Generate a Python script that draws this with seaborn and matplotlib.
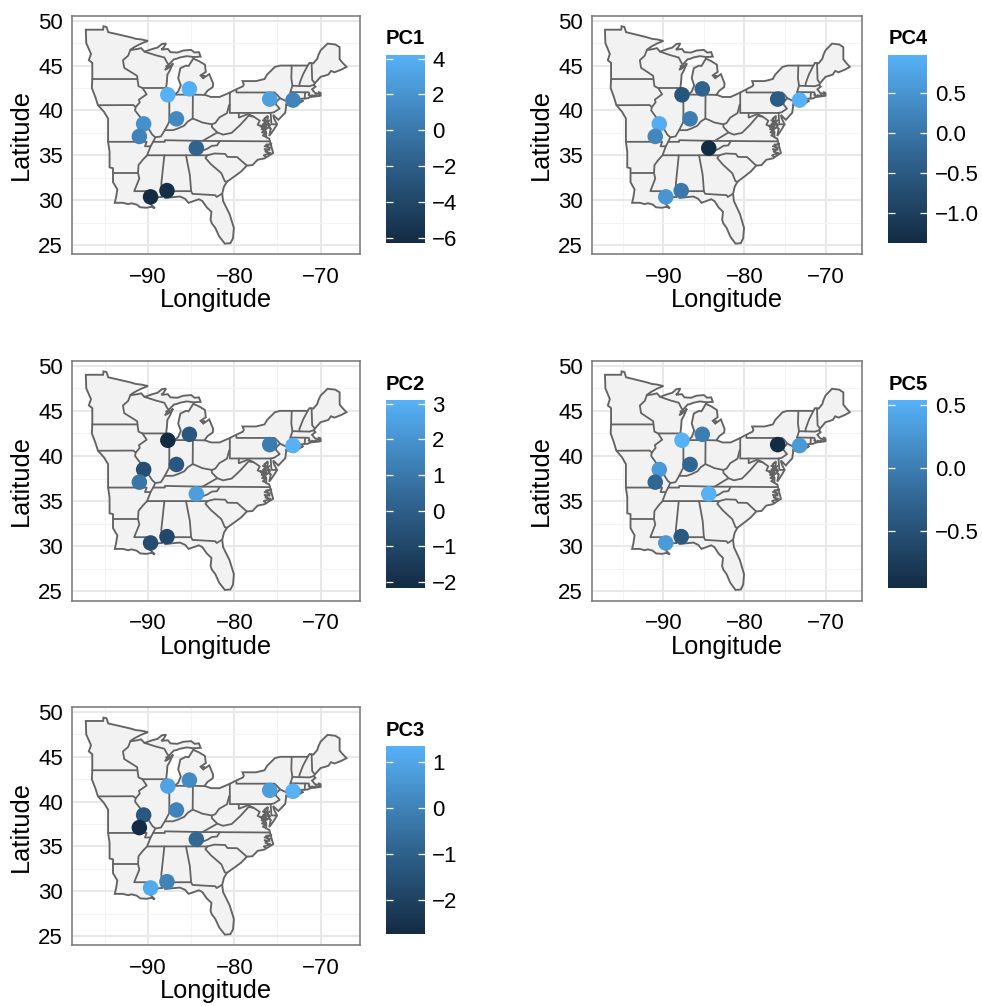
# PCA scores of the sites on a map of the eastern US, one panel per component
import matplotlib
matplotlib.use('Agg')
import matplotlib.pyplot as plt
import pandas as pd
import seaborn as sns
from matplotlib.cm import ScalarMappable
from matplotlib.colors import LinearSegmentedColormap, Normalize

# sites
site_lon = [-87.7, -85.2, -75.9, -73.2, -86.7, -90.5, -91.0, -84.4, -87.8, -89.7]
site_lat = [41.74, 42.4, 41.26, 41.15, 39.06, 38.5, 37.1, 35.8, 31.06, 30.36]

pc1 = [4.2, 4.0, 2.9, 0.9, 1.2, 1.8, 0.8, -1.6, -6.0, -6.28]
pc2 = [-2.17, -0.3, 1.1, 3.11, -0.3, -0.7, 0.9, 2.4, -0.9, -0.7]
pc3 = [0.9, 0.2, 0.75, 1.34, 0.0, -1.3, -2.75, -0.8, 0.0, 1.1]
pc4 = [-0.6, -0.35, -0.45, 0.97, 0.1, 0.9, 0.25, -1.37, 0.05, 0.5]
pc5 = [0.54, 0.0, -0.95, 0.3, -0.25, 0.3, -0.25, 0.54, -0.4, 0.3]

# colourbar range and ticks
pc1_range, pc1_ticks = (-6.28, 4.2), [-6, -4, -2, 0, 2, 4]
pc2_range, pc2_ticks = (-2.17, 3.11), [-2, -1, 0, 1, 2, 3]
pc3_range, pc3_ticks = (-2.75, 1.34), [-2, -1, 0, 1]
pc4_range, pc4_ticks = (-1.37, 0.97), [-1.0, -0.5, 0.0, 0.5]
pc5_range, pc5_ticks = (-0.95, 0.54), [-0.5, 0.0, 0.5]

# outer coast and land border, lon/lat
land = [
    (-97.2, 49.0), (-95.2, 49.0), (-95.15, 49.38), (-94.8, 49.3), (-94.6, 48.72), (-93.8, 48.55), (-92.9, 48.35),
    (-92.0, 48.15), (-91.4, 47.98), (-90.8, 47.92), (-90.0, 47.75), (-90.8, 47.45), (-91.6, 47.05),
    (-92.1, 46.72), (-91.2, 46.85), (-90.8, 46.95), (-90.4, 46.55), (-89.5, 46.85), (-88.9, 47.0), (-88.4, 47.4),
    (-87.9, 47.47), (-88.2, 47.0), (-88.45, 46.78), (-87.7, 46.85), (-87.4, 46.5), (-86.6, 46.45), (-85.9, 46.68),
    (-85.0, 46.75), (-84.6, 46.45), (-84.1, 46.5), (-83.9, 46.0), (-84.7, 45.95), (-85.5, 46.05), (-86.3, 45.9),
    (-86.7, 45.75), (-87.0, 45.7), (-87.6, 45.1), (-88.0, 44.55), (-87.4, 44.9), (-87.1, 45.25), (-87.5, 44.4),
    (-87.75, 44.0), (-87.8, 43.3), (-87.9, 42.5), (-87.5, 41.7), (-87.0, 41.7), (-86.5, 42.1), (-86.2, 42.8),
    (-86.5, 43.6), (-86.25, 44.7), (-85.6, 45.0), (-85.3, 44.95), (-85.0, 45.4), (-84.75, 45.78), (-84.1, 45.5),
    (-83.4, 45.1), (-83.3, 44.3), (-83.9, 43.9), (-83.6, 43.6), (-82.9, 44.05), (-82.45, 43.0), (-82.5, 42.6),
    (-83.1, 42.2), (-83.45, 41.75), (-82.7, 41.5), (-81.7, 41.5), (-80.5, 42.0), (-80.1, 42.2), (-79.0, 42.7),
    (-78.9, 42.9), (-79.05, 43.27), (-77.5, 43.27), (-76.5, 43.5), (-76.2, 44.0), (-75.3, 44.85), (-74.7, 45.0),
    (-71.5, 45.0), (-71.3, 45.3), (-70.85, 45.25), (-70.4, 45.75), (-70.25, 46.2), (-70.0, 46.7), (-69.2, 47.45),
    (-68.3, 47.35), (-67.8, 47.05), (-67.8, 45.7), (-67.45, 45.3), (-67.0, 44.85), (-67.6, 44.55), (-68.0, 44.4),
    (-68.4, 44.25), (-68.8, 44.4), (-69.1, 44.0), (-69.6, 43.85), (-70.0, 43.75), (-70.6, 43.1), (-70.8, 42.85),
    (-70.6, 42.65), (-71.0, 42.35), (-70.65, 41.95), (-70.0, 41.8), (-70.0, 41.65), (-70.65, 41.55), (-71.2, 41.5),
    (-71.5, 41.35), (-72.9, 41.25), (-73.65, 41.0), (-74.0, 40.7), (-74.0, 40.45), (-74.1, 39.75), (-74.9, 38.95),
    (-75.5, 39.5), (-75.4, 39.1), (-75.05, 38.45), (-75.4, 37.9), (-75.95, 37.15), (-75.8, 37.9), (-76.2, 38.6),
    (-76.1, 39.4), (-76.5, 39.1), (-76.4, 38.3), (-77.0, 38.3), (-76.3, 37.6), (-76.3, 37.0), (-75.95, 36.85),
    (-75.5, 35.25), (-76.5, 34.65), (-77.3, 34.5), (-77.9, 33.9), (-78.55, 33.85), (-79.2, 33.2), (-79.9, 32.7),
    (-80.85, 32.05), (-81.2, 31.5), (-81.4, 30.7), (-81.3, 29.9), (-80.55, 28.45), (-80.05, 26.9), (-80.15, 25.75),
    (-80.45, 25.2), (-81.1, 25.15), (-81.75, 25.95), (-82.2, 26.9), (-82.6, 27.4), (-82.75, 27.8), (-82.65, 28.7),
    (-83.2, 29.2), (-83.7, 29.9), (-84.1, 30.1), (-85.3, 29.7), (-85.7, 30.15), (-86.3, 30.4), (-87.5, 30.3),
    (-88.0, 30.25), (-88.0, 30.7), (-88.4, 30.35), (-89.3, 30.3), (-89.6, 30.2), (-89.4, 29.8), (-89.75, 29.6),
    (-89.2, 29.1), (-89.6, 29.25), (-90.2, 29.15), (-90.9, 29.2), (-91.3, 29.5), (-91.9, 29.65), (-92.3, 29.55),
    (-92.9, 29.7), (-93.85, 29.7), (-93.7, 30.3), (-93.55, 31.2), (-94.05, 32.0), (-94.05, 33.0), (-94.05, 33.55),
    (-94.45, 33.65), (-94.45, 35.4), (-94.62, 36.5), (-94.62, 39.1), (-95.1, 39.85), (-95.8, 40.6), (-96.1, 41.5),
    (-96.5, 42.5), (-96.45, 43.5), (-96.45, 45.3), (-96.85, 45.6), (-96.6, 46.3), (-97.15, 47.5), (-97.2, 49.0),
]
long_island = [(-74.0, 40.6), (-73.7, 40.88), (-72.6, 40.98), (-72.0, 41.1), (-72.5, 40.8), (-73.6, 40.58), (-74.0, 40.6)]

# inner state lines
state_lines = [
    [(-92.05, 46.7), (-92.3, 46.1), (-92.9, 45.6), (-92.75, 44.75), (-91.25, 43.85), (-91.22, 43.5)],
    [(-96.45, 43.5), (-91.22, 43.5), (-91.1, 42.7), (-90.64, 42.5), (-87.8, 42.5)],
    [(-90.4, 46.55), (-89.1, 46.15), (-88.1, 45.9), (-87.8, 45.35), (-87.6, 45.1)],
    [(-95.77, 40.58), (-91.7, 40.6), (-91.42, 40.38)],
    [(-90.64, 42.5), (-90.15, 41.8), (-91.05, 41.2), (-90.95, 40.9), (-91.42, 40.38), (-91.5, 40.0), (-90.7, 39.0),
     (-90.15, 38.8), (-90.35, 38.2), (-89.9, 37.9), (-89.5, 37.3), (-89.15, 37.0), (-89.4, 36.5), (-89.7, 36.0)],
    [(-94.62, 36.5), (-90.15, 36.5), (-90.35, 36.0), (-89.7, 36.0), (-90.1, 35.0), (-90.6, 34.5), (-91.1, 33.9),
     (-91.15, 33.0), (-91.0, 32.4), (-91.6, 31.0), (-89.73, 31.0), (-89.85, 30.65), (-89.6, 30.2)],
    [(-94.05, 33.0), (-91.15, 33.0)],
    [(-88.1, 35.0), (-88.45, 31.9), (-88.4, 30.35)],
    [(-90.1, 35.0), (-84.3, 35.0), (-84.0, 35.4), (-83.1, 35.75), (-82.6, 36.05), (-82.0, 36.1), (-81.68, 36.59)],
    [(-89.4, 36.5), (-88.05, 36.5), (-88.05, 36.68), (-83.68, 36.6), (-81.68, 36.59), (-75.87, 36.55)],
    [(-89.15, 37.0), (-88.5, 37.1), (-88.05, 37.8), (-87.55, 38.7), (-87.53, 39.3), (-87.53, 41.7)],
    [(-88.05, 37.8), (-87.1, 37.8), (-86.5, 38.0), (-85.8, 38.3), (-85.4, 38.75), (-84.82, 39.1), (-84.3, 38.9),
     (-83.7, 38.65), (-82.6, 38.45), (-82.2, 38.6), (-81.75, 39.2), (-80.85, 39.7), (-80.6, 40.6), (-80.52, 40.64)],
    [(-84.82, 39.1), (-84.8, 41.7)],
    [(-87.0, 41.76), (-84.8, 41.76), (-83.45, 41.73)],
    [(-80.52, 42.0), (-80.52, 39.72), (-75.79, 39.72), (-75.7, 38.46), (-75.05, 38.45)],
    [(-79.76, 42.25), (-79.76, 42.0), (-75.35, 42.0), (-75.05, 41.75), (-74.7, 41.36), (-75.1, 41.0), (-75.2, 40.7),
     (-74.75, 40.2), (-75.4, 39.8), (-75.79, 39.72)],
    [(-74.7, 41.36), (-73.9, 41.0)],
    [(-82.6, 38.45), (-82.6, 38.15), (-81.97, 37.54), (-83.68, 36.6)],
    [(-81.97, 37.54), (-81.3, 37.3), (-80.3, 37.5), (-79.3, 38.4), (-78.35, 39.4), (-77.75, 39.3)],
    [(-79.48, 39.72), (-79.48, 39.2), (-78.4, 39.6), (-77.75, 39.3), (-77.05, 38.85), (-77.3, 38.4), (-76.3, 38.0)],
    [(-83.1, 35.0), (-82.3, 35.2), (-81.05, 35.15), (-80.8, 34.82), (-79.67, 34.8), (-78.55, 33.85)],
    [(-84.3, 35.0), (-83.1, 35.0), (-83.35, 34.7), (-82.7, 34.0), (-81.5, 33.0), (-81.1, 32.1), (-80.85, 32.05)],
    [(-85.6, 35.0), (-85.15, 32.8), (-85.0, 31.0), (-84.85, 30.7), (-82.2, 30.55), (-82.05, 30.35), (-81.45, 30.7)],
    [(-87.45, 30.3), (-87.6, 31.0), (-85.0, 31.0)],
    [(-73.35, 45.0), (-73.4, 43.6), (-73.27, 42.75), (-73.5, 42.05), (-73.5, 41.3), (-73.65, 41.0)],
    [(-71.5, 45.0), (-72.05, 44.0), (-72.45, 43.0), (-72.46, 42.73)],
    [(-73.27, 42.75), (-71.3, 42.7), (-70.8, 42.85)],
    [(-73.5, 42.05), (-71.8, 42.02), (-71.38, 42.02), (-71.2, 41.5)],
    [(-71.8, 42.02), (-71.85, 41.32)],
    [(-71.05, 45.3), (-70.98, 43.4), (-70.7, 43.07)],
]
# bay and sound inlets, these read as the dark clutter along the coast
inlets = [
    [(-76.95, 38.3), (-76.55, 38.1), (-76.85, 37.9), (-76.4, 37.8), (-76.8, 37.55), (-76.35, 37.45), (-76.7, 37.2), (-76.3, 37.05)],
    [(-76.2, 39.3), (-76.55, 39.0), (-76.25, 38.85), (-76.55, 38.55), (-76.2, 38.4), (-76.5, 38.2), (-76.1, 38.05), (-76.4, 37.9)],
    [(-76.7, 38.9), (-76.35, 38.7), (-76.7, 38.45), (-76.35, 38.3), (-76.7, 38.15), (-76.3, 37.95), (-76.65, 37.7), (-76.3, 37.6)],
    [(-75.9, 38.9), (-76.15, 38.7), (-75.85, 38.35), (-76.05, 38.15), (-75.75, 37.95)],
    [(-75.7, 36.3), (-76.5, 36.0), (-75.85, 35.85), (-76.4, 35.4), (-75.8, 35.25), (-76.6, 35.0), (-76.3, 34.8)],
    [(-75.8, 36.2), (-76.3, 36.2), (-75.9, 35.6), (-76.5, 35.7), (-76.0, 35.1)],
    [(-70.65, 41.7), (-70.2, 41.6), (-70.0, 41.95), (-70.25, 42.05)],
    [(-71.4, 41.75), (-71.15, 41.5), (-71.0, 41.7), (-70.65, 41.6), (-70.5, 41.75)],
    [(-88.0, 44.55), (-87.7, 44.7), (-87.9, 44.95), (-87.5, 45.05)],
    [(-83.9, 43.9), (-83.45, 43.85), (-83.6, 43.6)],
]

# panel name, scores, range, ticks, tick format, panel edges and colourbar left in pixels
panels = [
    ('PC1', pc1, pc1_range, pc1_ticks, '{:.0f}', 72, 359.5, 15.7, 254.3, 386),
    ('PC2', pc2, pc2_range, pc2_ticks, '{:.0f}', 72, 359.5, 360.7, 600.7, 386),
    ('PC3', pc3, pc3_range, pc3_ticks, '{:.0f}', 72, 359.5, 707, 945.3, 386),
    ('PC4', pc4, pc4_range, pc4_ticks, '{:.1f}', 592, 862, 15.7, 254.3, 888.3),
    ('PC5', pc5, pc5_range, pc5_ticks, '{:.1f}', 592, 862, 360.7, 600.7, 888.3),
]

W, H = 982, 1006
sns.set_theme(style='white')
plt.rcParams['font.family'] = ['Liberation Sans', 'DejaVu Sans']
plt.rcParams['axes.unicode_minus'] = True

score_cmap = LinearSegmentedColormap.from_list('score', ['#132B43', '#336A98', '#56B1F7'])
fig = plt.figure(figsize=(W / 100, H / 100), dpi=100, facecolor='white')


def px_axes(x0, x1, y0, y1):
    return fig.add_axes([x0 / W, 1 - y1 / H, (x1 - x0) / W, (y1 - y0) / H])


for name, scores, rng, ticks, fmt, x0, x1, y0, y1, bar_x in panels:
    ax = px_axes(x0, x1, y0, y1)
    ax.set_axisbelow(True)

    ax.set_xticks([-90, -80, -70])
    ax.set_xticks([-95, -85, -75], minor=True)
    ax.set_yticks([25, 30, 35, 40, 45, 50])
    ax.set_yticks([27.5, 32.5, 37.5, 42.5, 47.5], minor=True)
    ax.grid(True, which='major', color='#e8e8e8', lw=1.4)
    ax.grid(True, which='minor', color='#f3f3f3', lw=0.8)

    ax.fill([p[0] for p in land], [p[1] for p in land], facecolor='#f2f2f2', edgecolor='#636363', lw=1.35, zorder=2)
    ax.fill([p[0] for p in long_island], [p[1] for p in long_island], facecolor='#f2f2f2', edgecolor='#636363', lw=1.35, zorder=2)
    for line in state_lines + inlets:
        ax.plot([p[0] for p in line], [p[1] for p in line], color='#636363', lw=1.3, zorder=3)

    df = pd.DataFrame({'lon': site_lon, 'lat': site_lat, name: scores})
    sns.scatterplot(data=df, x='lon', y='lat', hue=name, palette=score_cmap, hue_norm=rng,
                    s=125, linewidth=0, legend=False, ax=ax, zorder=4)

    ax.set_xlim(-98.8, -65.5)
    ax.set_ylim(23.96, 50.56)
    for sp in ax.spines.values():
        sp.set_color('#7f7f7f')
        sp.set_linewidth(1.2)
    ax.tick_params(axis='x', which='major', length=2.5, width=0.9, color='#444444', labelsize=16, pad=6.5, labelcolor='black')
    ax.tick_params(axis='y', which='major', length=5.5, width=0.9, color='#444444', labelsize=16, pad=1, labelcolor='black')
    ax.tick_params(which='minor', length=0)
    ax.set_xlabel('Longitude', fontsize=18.3, color='black')
    ax.set_ylabel('Latitude', fontsize=18.3, color='black')
    ax.xaxis.set_label_coords(0.5, -46 / (y1 - y0), transform=ax.transAxes)
    ax.xaxis.label.set_va('center')
    ax.yaxis.set_label_coords(-51 / (x1 - x0), 0.5, transform=ax.transAxes)
    ax.yaxis.label.set_va('center')

    # colourbar with ggplot style white ticks on both edges
    cax = px_axes(bar_x, bar_x + 38.7, y0 + 39.3, y0 + 227)
    sm = ScalarMappable(norm=Normalize(*rng), cmap=score_cmap)
    cb = fig.colorbar(sm, cax=cax)
    cb.outline.set_visible(False)
    cb.set_ticks(ticks)
    cb.set_ticklabels([fmt.format(t).replace('-', '\u2212') for t in ticks])
    cax.tick_params(axis='y', length=0, labelsize=16, pad=5.5, labelcolor='black')
    cax.hlines(ticks, 0, 0.18, color='white', lw=0.9, transform=cax.get_yaxis_transform())
    cax.hlines(ticks, 0.82, 1, color='white', lw=0.9, transform=cax.get_yaxis_transform())
    fig.text(bar_x / W, 1 - (y0 + 23.3) / H, name, fontsize=14.5, fontweight='bold', color='black', ha='left', va='center')

fig.savefig('out.png', dpi=100)
